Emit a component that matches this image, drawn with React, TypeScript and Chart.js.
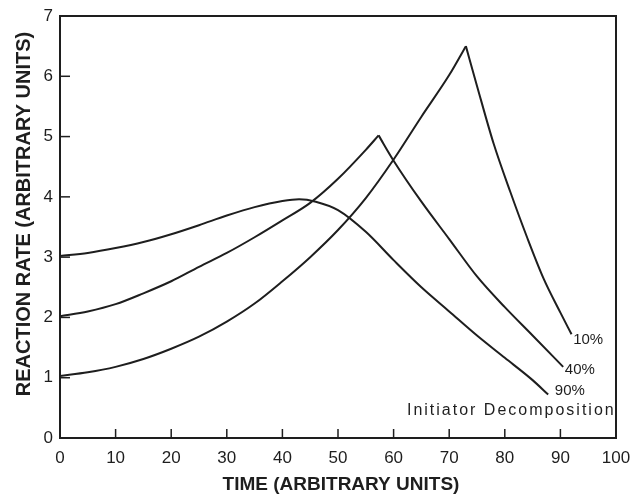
import { useEffect, useRef } from 'react';
import { Chart, registerables } from 'chart.js';

Chart.register(...registerables);

// 10% initiator decomposition
const time10Rise = [0, 5, 10, 15, 20, 25, 30, 35, 40, 45, 50, 55, 60, 65, 70, 73];
const rate10Rise = [1.03, 1.09, 1.18, 1.31, 1.48, 1.68, 1.93, 2.23, 2.6, 3.0, 3.45, 3.98, 4.62, 5.33, 6.02, 6.5];
const time10Fall = [73, 75, 78, 81, 84, 87, 90, 92];
const rate10Fall = [6.5, 5.84, 4.88, 4.08, 3.33, 2.64, 2.08, 1.72];

// 40% initiator decomposition
const time40Rise = [0, 5, 10, 15, 20, 25, 30, 35, 40, 45, 50, 55, 57.3];
const rate40Rise = [2.02, 2.1, 2.22, 2.4, 2.6, 2.84, 3.07, 3.33, 3.61, 3.9, 4.3, 4.78, 5.02];
const time40Fall = [57.3, 60, 65, 70, 75, 80, 85, 90.5];
const rate40Fall = [5.02, 4.6, 3.92, 3.3, 2.68, 2.17, 1.7, 1.18];

// 90% initiator decomposition
const time90 = [0, 5, 10, 15, 20, 25, 30, 35, 40, 43, 46, 50, 55, 60, 65, 70, 75, 80, 85, 87.8];
const rate90 = [3.02, 3.07, 3.15, 3.25, 3.38, 3.53, 3.69, 3.83, 3.93, 3.96, 3.92, 3.78, 3.42, 2.95, 2.5, 2.1, 1.7, 1.33, 0.96, 0.72];

const xTicks = [0, 10, 20, 30, 40, 50, 60, 70, 80, 90, 100];
const yTicks = [0, 1, 2, 3, 4, 5, 6, 7];

const xTitle = 'TIME (ARBITRARY UNITS)';
const yTitle = 'REACTION RATE (ARBITRARY UNITS)';
const curveLabels = ['10%', '40%', '90%'];
const noteText = 'Initiator Decomposition';

const INK = '#1e1e1e';

const pts = (xs: number[], ys: number[]) => xs.map((x, i) => ({ x, y: ys[i] }));

const lineDs = (data: { x: number; y: number }[]) => ({
  data,
  showLine: true,
  borderColor: INK,
  borderWidth: 2,
  pointRadius: 0,
  cubicInterpolationMode: 'monotone' as const,
  fill: false,
});

const decorPlugin = {
  id: 'decor',
  afterDraw(chart: any) {
    const { ctx, chartArea: a, scales } = chart;
    const xs = scales.x;
    const ys = scales.y;
    ctx.save();
    ctx.strokeStyle = INK;
    ctx.lineWidth = 2;
    ctx.strokeRect(a.left, a.top, a.right - a.left, a.bottom - a.top);
    ctx.lineWidth = 1.5;
    xs.ticks.forEach((t: any) => {
      if (t.value <= xs.min || t.value >= xs.max) return;
      const px = xs.getPixelForValue(t.value);
      ctx.beginPath();
      ctx.moveTo(px, a.bottom);
      ctx.lineTo(px, a.bottom - 9);
      ctx.stroke();
    });
    ys.ticks.forEach((t: any) => {
      if (t.value <= ys.min || t.value >= ys.max) return;
      const py = ys.getPixelForValue(t.value);
      ctx.beginPath();
      ctx.moveTo(a.left, py);
      ctx.lineTo(a.left + 10, py);
      ctx.stroke();
    });

    // axis titles
    ctx.fillStyle = INK;
    ctx.font = 'bold 19px "Liberation Sans"';
    ctx.textAlign = 'center';
    ctx.textBaseline = 'middle';
    ctx.fillText(xTitle, 341, 485);
    ctx.save();
    ctx.translate(24, 214);
    ctx.rotate(-Math.PI / 2);
    ctx.font = 'bold 20px "Liberation Sans"';
    ctx.fillText(yTitle, 0, 0);
    ctx.restore();

    // curve annotations
    ctx.font = '15px "Liberation Sans"';
    ctx.textAlign = 'left';
    const labelPos = [
      [92.3, 1.63],
      [90.8, 1.13],
      [89.0, 0.78],
    ];
    curveLabels.forEach((txt, i) => {
      ctx.fillText(txt, xs.getPixelForValue(labelPos[i][0]), ys.getPixelForValue(labelPos[i][1]));
    });
    ctx.font = '16px "Liberation Sans"';
    (ctx as any).letterSpacing = '2px';
    ctx.fillText(noteText, xs.getPixelForValue(62.4), ys.getPixelForValue(0.46));
    (ctx as any).letterSpacing = '0px';
    ctx.restore();
  },
};

export default function App() {
  const ref = useRef<HTMLCanvasElement>(null);
  useEffect(() => {
    if (!ref.current) return;
    const chart = new Chart(ref.current, {
      type: 'scatter',
      data: {
        datasets: [
          lineDs(pts(time10Rise, rate10Rise)),
          lineDs(pts(time10Fall, rate10Fall)),
          lineDs(pts(time40Rise, rate40Rise)),
          lineDs(pts(time40Fall, rate40Fall)),
          lineDs(pts(time90, rate90)),
        ],
      },
      options: {
        responsive: false,
        animation: false,
        layout: { padding: { top: 16, right: 20, left: 0, bottom: 0 } },
        plugins: { legend: { display: false }, tooltip: { enabled: false } },
        scales: {
          x: {
            type: 'linear',
            min: 0,
            max: 100,
            afterBuildTicks: (s: any) => {
              s.ticks = xTicks.map((v) => ({ value: v }));
            },
            afterFit: (s: any) => {
              s.height = 60;
              s.paddingLeft = 0;
              s.paddingRight = 0;
            },
            grid: { display: false, drawTicks: false },
            border: { display: false },
            ticks: { color: INK, padding: 10, font: { family: '"Liberation Sans"', size: 17 } },
          },
          y: {
            type: 'linear',
            min: 0,
            max: 7,
            afterBuildTicks: (s: any) => {
              s.ticks = yTicks.map((v) => ({ value: v }));
            },
            afterFit: (s: any) => {
              s.width = 60;
              s.paddingTop = 0;
              s.paddingBottom = 0;
            },
            grid: { display: false, drawTicks: false },
            border: { display: false },
            ticks: { color: INK, padding: 7, font: { family: '"Liberation Sans"', size: 17 } },
          },
        },
      },
      plugins: [decorPlugin],
    });
    return () => chart.destroy();
  }, []);
  return (
    <canvas
      ref={ref}
      width={636}
      height={498}
      style={{ position: 'absolute', left: 0, top: 0, background: '#fff' }}
    />
  );
}
